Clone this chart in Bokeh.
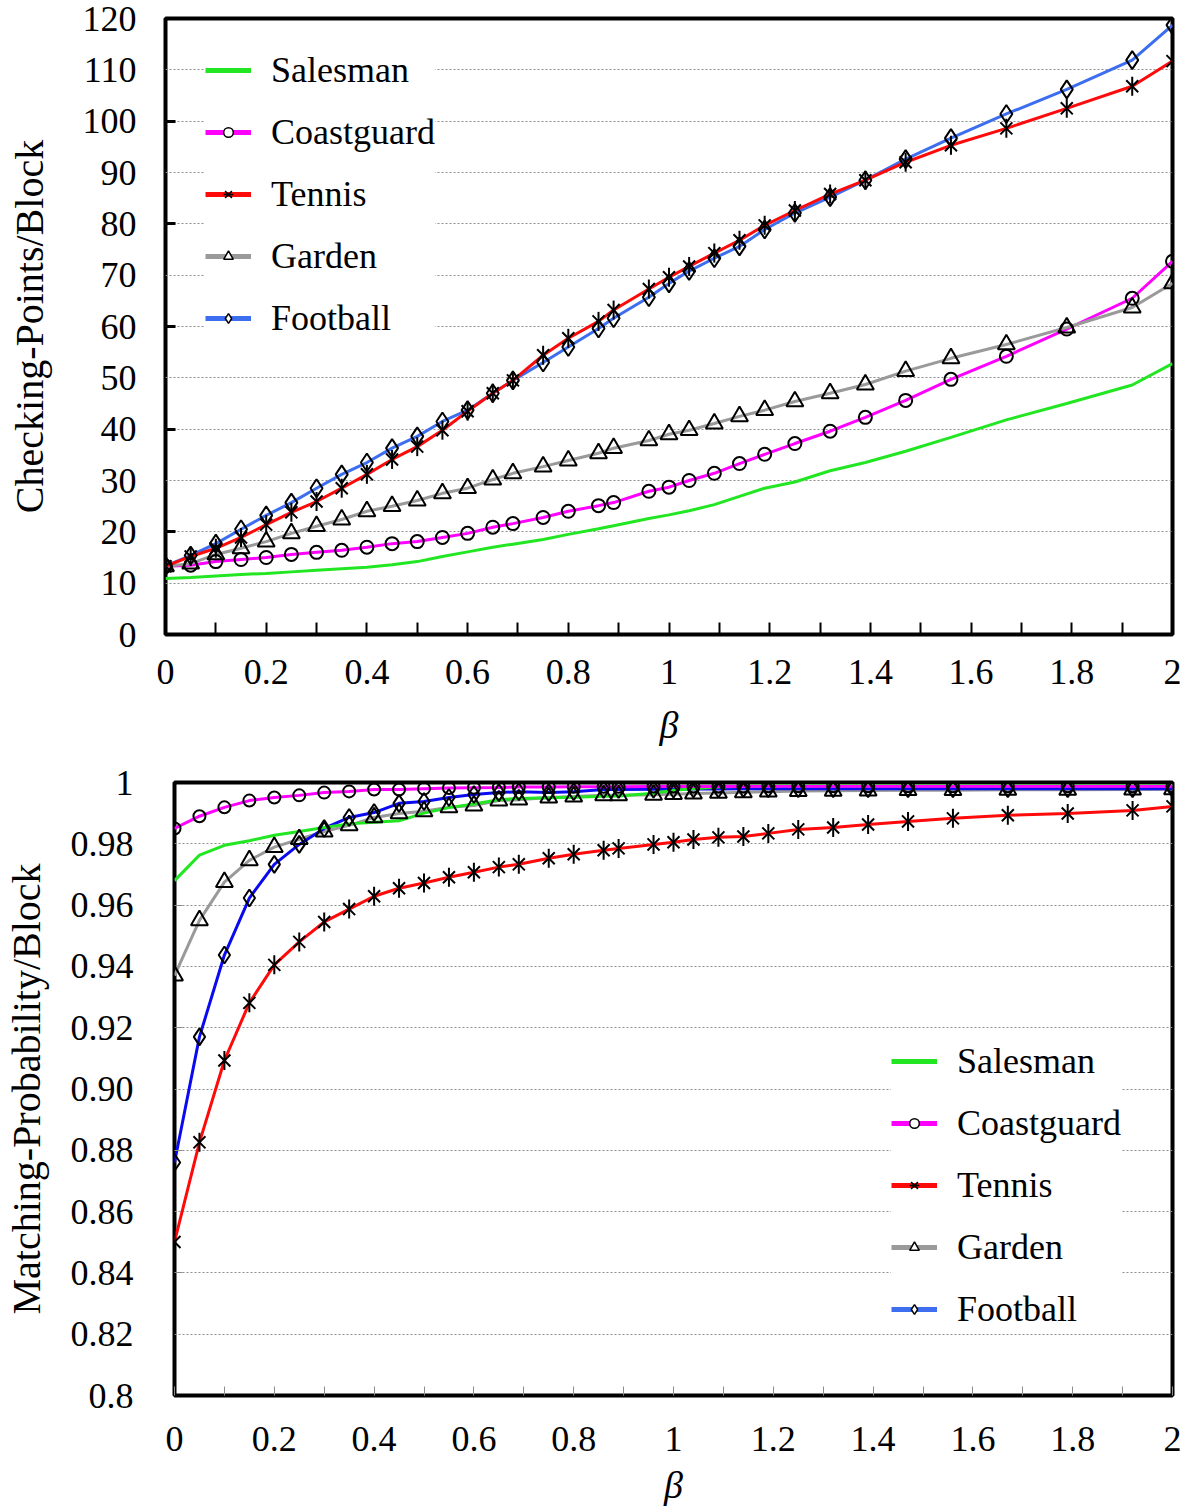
import math
from bokeh.plotting import figure
from bokeh.models import Range1d, FixedTicker, CustomJSTickFormatter, Legend, LegendItem
from bokeh.embed import file_html
from bokeh.resources import INLINE

# ---------------- data ----------------
beta = [0, 0.05, 0.1, 0.15, 0.2, 0.25, 0.3, 0.35, 0.4, 0.45,
        0.5, 0.55, 0.6, 0.65, 0.69, 0.75, 0.8, 0.86, 0.89, 0.96,
        1.0, 1.04, 1.09, 1.14, 1.19, 1.25, 1.32, 1.39, 1.47, 1.56,
        1.67, 1.79, 1.92, 2.0]

series_names = ["Salesman", "Coastguard", "Tennis", "Garden", "Football"]

# Checking-Points/Block
cp_salesman = [10.9, 11.1, 11.4, 11.7, 11.9, 12.2, 12.5, 12.8, 13.1, 13.6,
               14.2, 15.2, 16.1, 17.0, 17.6, 18.5, 19.5, 20.6, 21.2, 22.6,
               23.3, 24.1, 25.3, 26.9, 28.5, 29.7, 31.9, 33.5, 35.7, 38.4,
               41.8, 45.0, 48.6, 52.8]
cp_coastguard = [13.3, 13.5, 14.2, 14.6, 15.0, 15.6, 16.0, 16.4, 17.0, 17.7,
                 18.1, 18.9, 19.7, 20.9, 21.6, 22.8, 24.0, 25.1, 25.7, 27.9,
                 28.7, 30.0, 31.4, 33.3, 35.1, 37.2, 39.6, 42.3, 45.6, 49.7,
                 54.2, 59.5, 65.5, 72.7]
cp_tennis = [13.3, 15.2, 16.8, 18.9, 21.4, 23.8, 25.9, 28.5, 31.2, 34.1,
             36.6, 39.8, 43.5, 47.0, 49.5, 54.4, 57.7, 61.0, 63.2, 67.3,
             69.6, 71.7, 74.3, 76.8, 79.7, 82.6, 85.8, 88.5, 92.0, 95.3,
             98.6, 102.5, 106.8, 111.7]
cp_garden = [13.3, 13.8, 15.6, 16.8, 18.1, 19.7, 21.1, 22.4, 24.0, 25.0,
             26.1, 27.5, 28.5, 30.2, 31.4, 32.7, 33.9, 35.3, 36.3, 37.8,
             39.0, 39.8, 41.1, 42.5, 43.7, 45.4, 47.0, 48.7, 51.3, 53.8,
             56.5, 59.8, 63.7, 68.4]
cp_football = [13.3, 15.4, 17.7, 20.5, 23.2, 25.7, 28.5, 31.2, 33.5, 36.3,
               38.6, 41.5, 43.7, 47.0, 49.5, 53.0, 56.0, 59.6, 61.6, 65.7,
               68.4, 70.8, 73.3, 75.6, 78.9, 82.1, 85.2, 88.5, 92.6, 96.7,
               101.4, 106.2, 111.9, 118.7]

# Matching-Probability/Block
mp_salesman = [0.968, 0.9763, 0.9795, 0.981, 0.9828, 0.984, 0.9853, 0.9865, 0.987, 0.9875,
               0.990, 0.9918, 0.993, 0.9944, 0.9948, 0.995, 0.9952, 0.9955, 0.9956, 0.9965,
               0.9975, 0.998, 0.9985, 0.9988, 0.999, 0.999, 0.999, 0.999, 0.999, 0.999,
               0.999, 0.999, 0.999, 0.999]
mp_coastguard = [0.985, 0.989, 0.9919, 0.9941, 0.9951, 0.9958, 0.9967, 0.9971, 0.9977, 0.9977,
                 0.998, 0.9982, 0.9983, 0.9984, 0.9985, 0.9985, 0.9986, 0.9986, 0.9986, 0.9987,
                 0.9987, 0.9987, 0.9987, 0.9987, 0.9988, 0.9988, 0.9988, 0.9988, 0.9988, 0.9988,
                 0.9988, 0.9988, 0.9988, 0.9988]
mp_tennis = [0.8501, 0.8826, 0.9093, 0.9281, 0.9405, 0.948, 0.9545, 0.9587, 0.9629, 0.9655,
             0.9672, 0.9691, 0.9707, 0.9724, 0.9733, 0.9753, 0.9766, 0.9779, 0.9785, 0.9798,
             0.9805, 0.9814, 0.9821, 0.9824, 0.9834, 0.9847, 0.9853, 0.9863, 0.9873, 0.9883,
             0.9893, 0.9899, 0.9909, 0.9922]
mp_garden = [0.937, 0.955, 0.9675, 0.9746, 0.9789, 0.9815, 0.984, 0.986, 0.9886, 0.9899,
             0.9906, 0.9919, 0.9925, 0.9941, 0.9944, 0.9951, 0.9954, 0.9958, 0.9958, 0.996,
             0.9962, 0.9964, 0.9966, 0.9968, 0.997, 0.9972, 0.9973, 0.9974, 0.9975, 0.9975,
             0.9976, 0.9976, 0.9977, 0.9978]
mp_football = [0.876, 0.917, 0.9437, 0.9623, 0.9733, 0.9798, 0.985, 0.9886, 0.9902, 0.9932,
               0.9938, 0.9951, 0.9961, 0.9967, 0.997, 0.9967, 0.997, 0.9977, 0.9977, 0.9978,
               0.9978, 0.9979, 0.9979, 0.998, 0.998, 0.998, 0.998, 0.998, 0.998, 0.998,
               0.998, 0.998, 0.998, 0.998]

x_ticks = [0, 0.2, 0.4, 0.6, 0.8, 1.0, 1.2, 1.4, 1.6, 1.8, 2.0]
x_tick_labels = ["0", "0.2", "0.4", "0.6", "0.8", "1", "1.2", "1.4", "1.6", "1.8", "2"]
x_minor = [0.1, 0.3, 0.5, 0.7, 0.9, 1.1, 1.3, 1.5, 1.7, 1.9]

cp_y_ticks = [0, 10, 20, 30, 40, 50, 60, 70, 80, 90, 100, 110, 120]
cp_y_labels = ["0", "10", "20", "30", "40", "50", "60", "70", "80", "90", "100", "110", "120"]
cp_y_marks = [20, 40, 60, 80, 100]

mp_y_ticks = [0.8, 0.82, 0.84, 0.86, 0.88, 0.9, 0.92, 0.94, 0.96, 0.98, 1.0]
mp_y_labels = ["0.8", "0.82", "0.84", "0.86", "0.88", "0.90", "0.92", "0.94", "0.96", "0.98", "1"]
mp_y_marks = [0.84, 0.88, 0.92, 0.96]

FONT = "Liberation Serif"

def fmt(tvals, tlabels):
    return CustomJSTickFormatter(args=dict(tvals=tvals, tlabels=tlabels), code="""
        let best = -1, d = Infinity;
        for (let i = 0; i < tvals.length; i++) {
            const e = Math.abs(tvals[i] - tick);
            if (e < d) { d = e; best = i; }
        }
        return (d < 1e-6) ? tlabels[best] : '';
    """)

def style_common(p):
    p.outline_line_color = "black"
    p.outline_line_width = 4
    p.xgrid.visible = False
    p.ygrid.grid_line_color = "#8f8f8f"
    p.ygrid.grid_line_dash = "2 2"
    p.ygrid.grid_line_width = 1
    for ax in (p.xaxis[0], p.yaxis[0]):
        ax.axis_line_color = None
        ax.major_label_text_font = FONT
        ax.major_label_text_font_size = "36px"
        ax.major_label_text_color = "black"
        ax.axis_label_text_font = FONT
        ax.axis_label_text_color = "black"
        ax.major_tick_out = 0
        ax.minor_tick_out = 0
    p.xaxis[0].axis_label = "β"
    p.xaxis[0].axis_label_text_font_style = "italic"
    p.xaxis[0].axis_label_text_font_size = "38px"
    p.yaxis[0].axis_label_text_font_style = "normal"
    p.yaxis[0].axis_label_text_font_size = "40px"

MK = dict(fill_color=None, line_color="black", line_width=2)

def add_markers(p, ys, kind, size):
    if kind == "asterisk":
        a = p.scatter(beta, ys, marker="x", size=size, **MK)
        b = p.scatter(beta, ys, marker="dash", angle=math.pi / 2, size=size + 2, **MK)
        return [a, b]
    return [p.scatter(beta, ys, marker=kind, size=size, **MK)]

def add_legend(p, entries, loc):
    items = []
    for name, ys, color, kind in entries:
        rends = [p.line(beta, ys, line_color=color, line_width=5, visible=False)]
        if kind == "asterisk":
            rends.append(p.scatter(beta, ys, marker="x", size=10, fill_color=None,
                                   line_color="black", line_width=1.5, visible=False))
            rends.append(p.scatter(beta, ys, marker="dash", angle=math.pi / 2, size=11,
                                   line_color="black", line_width=1.5, visible=False))
        elif kind is not None:
            rends.append(p.scatter(beta, ys, marker=kind, size=9, fill_color="white",
                                   line_color="black", line_width=1.5, visible=False))
        items.append(LegendItem(label=name, renderers=rends))
    leg = Legend(items=items, location=loc)
    leg.label_text_font = FONT
    leg.label_text_font_size = "36px"
    leg.label_text_color = "black"
    leg.glyph_width = 46
    leg.glyph_height = 24
    leg.label_height = 40
    leg.label_standoff = 20
    leg.spacing = 20
    leg.padding = 8
    leg.margin = 0
    leg.border_line_color = None
    leg.background_fill_color = "white"
    leg.background_fill_alpha = 1.0
    p.add_layout(leg)

GREEN = "#22e622"
MAGENTA = "#ff00ff"
RED = "#ff0a0a"
GRAY = "#9a9a9a"
LBLUE = "#3d6ef0"
DBLUE = "#0a0af0"

# ---------------- top chart ----------------
p1 = figure(width=1184, height=760, x_range=Range1d(0, 2), y_range=Range1d(0, 120),
            output_backend="svg", toolbar_location=None,
            min_border_left=165, min_border_right=12, min_border_top=18, min_border_bottom=126,
            background_fill_color="white", border_fill_color="white")
style_common(p1)
p1.xaxis[0].ticker = FixedTicker(ticks=x_ticks, minor_ticks=x_minor)
p1.xaxis[0].formatter = fmt(x_ticks, x_tick_labels)
p1.xaxis[0].major_tick_in = 12
p1.xaxis[0].minor_tick_in = 12
p1.xaxis[0].major_tick_line_width = 2
p1.xaxis[0].minor_tick_line_width = 2
p1.xaxis[0].major_tick_line_color = "black"
p1.xaxis[0].minor_tick_line_color = "black"
p1.xaxis[0].major_label_standoff = 25
p1.xaxis[0].axis_label_standoff = 17
p1.yaxis[0].ticker = FixedTicker(ticks=cp_y_ticks, minor_ticks=cp_y_marks)
p1.yaxis[0].formatter = fmt(cp_y_ticks, cp_y_labels)
p1.yaxis[0].major_tick_in = 0
p1.yaxis[0].minor_tick_in = 10
p1.yaxis[0].minor_tick_line_width = 3
p1.yaxis[0].minor_tick_line_color = "black"
p1.yaxis[0].major_label_standoff = 29
p1.yaxis[0].axis_label_standoff = 28
p1.yaxis[0].axis_label = "Checking-Points/Block"

p1.line(beta, cp_salesman, line_color=GREEN, line_width=3)
p1.line(beta, cp_coastguard, line_color=MAGENTA, line_width=3)
p1.line(beta, cp_garden, line_color=GRAY, line_width=3)
p1.line(beta, cp_football, line_color=LBLUE, line_width=3)
p1.line(beta, cp_tennis, line_color=RED, line_width=3)
add_markers(p1, cp_coastguard, "circle", 13)
add_markers(p1, cp_garden, "triangle", 17)
add_markers(p1, cp_football, "diamond", 18)
add_markers(p1, cp_tennis, "asterisk", 17)

add_legend(p1, [("Salesman", cp_salesman, GREEN, None),
                ("Coastguard", cp_coastguard, MAGENTA, "circle"),
                ("Tennis", cp_tennis, RED, "asterisk"),
                ("Garden", cp_garden, GRAY, "triangle"),
                ("Football", cp_football, LBLUE, "diamond")],
           (40, 295))

# ---------------- bottom chart ----------------
p2 = figure(width=1184, height=748, x_range=Range1d(0, 2), y_range=Range1d(0.8, 1.0),
            output_backend="svg", toolbar_location=None,
            min_border_left=173, min_border_right=12, min_border_top=22, min_border_bottom=111,
            background_fill_color="white", border_fill_color="white")
style_common(p2)
p2.xaxis[0].ticker = FixedTicker(ticks=x_ticks, minor_ticks=x_minor)
p2.xaxis[0].formatter = fmt(x_ticks, x_tick_labels)
p2.xaxis[0].major_tick_in = 9
p2.xaxis[0].minor_tick_in = 9
p2.xaxis[0].major_tick_line_width = 1
p2.xaxis[0].minor_tick_line_width = 1
p2.xaxis[0].major_tick_line_color = "#8c8c8c"
p2.xaxis[0].minor_tick_line_color = "#8c8c8c"
p2.xaxis[0].major_label_standoff = 31
p2.xaxis[0].axis_label_standoff = 10
p2.yaxis[0].ticker = FixedTicker(ticks=mp_y_ticks, minor_ticks=mp_y_marks)
p2.yaxis[0].formatter = fmt(mp_y_ticks, mp_y_labels)
p2.yaxis[0].major_tick_in = 0
p2.yaxis[0].minor_tick_in = 8
p2.yaxis[0].minor_tick_line_width = 1
p2.yaxis[0].minor_tick_line_color = "#8c8c8c"
p2.yaxis[0].major_label_standoff = 41
p2.yaxis[0].axis_label_standoff = 19
p2.yaxis[0].axis_label = "Matching-Probability/Block"

p2.line(beta, mp_garden, line_color=GRAY, line_width=3)
p2.line(beta, mp_football, line_color=DBLUE, line_width=3)
p2.line(beta, mp_salesman, line_color=GREEN, line_width=3)
p2.line(beta, mp_coastguard, line_color=MAGENTA, line_width=3)
p2.line(beta, mp_tennis, line_color=RED, line_width=3)
add_markers(p2, mp_coastguard, "circle", 12)
add_markers(p2, mp_garden, "triangle", 17)
add_markers(p2, mp_football, "diamond", 17)
add_markers(p2, mp_tennis, "asterisk", 17)

add_legend(p2, [("Salesman", mp_salesman, GREEN, None),
                ("Coastguard", mp_coastguard, MAGENTA, "circle"),
                ("Tennis", mp_tennis, RED, "asterisk"),
                ("Garden", mp_garden, GRAY, "triangle"),
                ("Football", mp_football, LBLUE, "diamond")],
           (717, 65))

open("out.html", "w").write(file_html([p1, p2], INLINE))
